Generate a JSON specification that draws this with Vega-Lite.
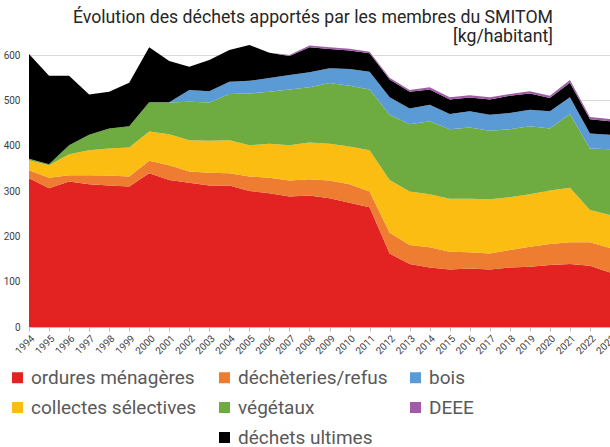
{
  "$schema": "https://vega.github.io/schema/vega-lite/v6.json",
  "width": 581,
  "height": 272,
  "autosize": {"type": "none"},
  "padding": {"left": 29, "top": 55, "right": 0, "bottom": 120},
  "background": "white",
  "title": {
    "text": "Évolution des déchets apportés par les membres du SMITOM",
    "subtitle": "[kg/habitant]",
    "anchor": "end",
    "frame": "group",
    "dx": -57,
    "offset": -1,
    "font": "Roboto",
    "fontSize": 17.7,
    "fontWeight": "normal",
    "color": "#262626",
    "subtitleFont": "Roboto",
    "subtitleFontSize": 17.7,
    "subtitleColor": "#262626",
    "subtitlePadding": 2
  },
  "data": {
    "values": [
      {"year": "1994", "ordures ménagères": 328, "déchèteries/refus": 18, "collectes sélectives": 22, "végétaux": 3, "bois": 0, "déchets ultimes": 231, "DEEE": 0},
      {"year": "1995", "ordures ménagères": 306, "déchèteries/refus": 23, "collectes sélectives": 28, "végétaux": 2, "bois": 0, "déchets ultimes": 195, "DEEE": 0},
      {"year": "1996", "ordures ménagères": 321, "déchèteries/refus": 14, "collectes sélectives": 46, "végétaux": 20, "bois": 0, "déchets ultimes": 153, "DEEE": 0},
      {"year": "1997", "ordures ménagères": 315, "déchèteries/refus": 20, "collectes sélectives": 55, "végétaux": 34, "bois": 0, "déchets ultimes": 89, "DEEE": 0},
      {"year": "1998", "ordures ménagères": 312, "déchèteries/refus": 22, "collectes sélectives": 60, "végétaux": 44, "bois": 0, "déchets ultimes": 81, "DEEE": 0},
      {"year": "1999", "ordures ménagères": 310, "déchèteries/refus": 22, "collectes sélectives": 64, "végétaux": 47, "bois": 0, "déchets ultimes": 96, "DEEE": 0},
      {"year": "2000", "ordures ménagères": 339, "déchèteries/refus": 28, "collectes sélectives": 64, "végétaux": 65, "bois": 0, "déchets ultimes": 121, "DEEE": 0},
      {"year": "2001", "ordures ménagères": 324, "déchèteries/refus": 33, "collectes sélectives": 68, "végétaux": 70, "bois": 1, "déchets ultimes": 91, "DEEE": 0},
      {"year": "2002", "ordures ménagères": 318, "déchèteries/refus": 25, "collectes sélectives": 69, "végétaux": 85, "bois": 26, "déchets ultimes": 51, "DEEE": 0},
      {"year": "2003", "ordures ménagères": 312, "déchèteries/refus": 28, "collectes sélectives": 71, "végétaux": 84, "bois": 25, "déchets ultimes": 69, "DEEE": 0},
      {"year": "2004", "ordures ménagères": 312, "déchèteries/refus": 27, "collectes sélectives": 73, "végétaux": 102, "bois": 27, "déchets ultimes": 70, "DEEE": 0},
      {"year": "2005", "ordures ménagères": 300, "déchèteries/refus": 32, "collectes sélectives": 69, "végétaux": 114, "bois": 28, "déchets ultimes": 79, "DEEE": 0},
      {"year": "2006", "ordures ménagères": 295, "déchèteries/refus": 34, "collectes sélectives": 75, "végétaux": 115, "bois": 30, "déchets ultimes": 56, "DEEE": 0},
      {"year": "2007", "ordures ménagères": 288, "déchèteries/refus": 35, "collectes sélectives": 78, "végétaux": 123, "bois": 32, "déchets ultimes": 42, "DEEE": 2},
      {"year": "2008", "ordures ménagères": 290, "déchèteries/refus": 36, "collectes sélectives": 81, "végétaux": 122, "bois": 33, "déchets ultimes": 55, "DEEE": 4},
      {"year": "2009", "ordures ménagères": 284, "déchèteries/refus": 39, "collectes sélectives": 81, "végétaux": 134, "bois": 33, "déchets ultimes": 42, "DEEE": 4},
      {"year": "2010", "ordures ménagères": 274, "déchèteries/refus": 41, "collectes sélectives": 83, "végétaux": 134, "bois": 37, "déchets ultimes": 41, "DEEE": 4},
      {"year": "2011", "ordures ménagères": 264, "déchèteries/refus": 35, "collectes sélectives": 91, "végétaux": 134, "bois": 39, "déchets ultimes": 41, "DEEE": 3},
      {"year": "2012", "ordures ménagères": 162, "déchèteries/refus": 46, "collectes sélectives": 116, "végétaux": 144, "bois": 39, "déchets ultimes": 39, "DEEE": 4},
      {"year": "2013", "ordures ménagères": 139, "déchèteries/refus": 42, "collectes sélectives": 118, "végétaux": 148, "bois": 35, "déchets ultimes": 37, "DEEE": 4},
      {"year": "2014", "ordures ménagères": 131, "déchèteries/refus": 45, "collectes sélectives": 117, "végétaux": 161, "bois": 36, "déchets ultimes": 34, "DEEE": 5},
      {"year": "2015", "ordures ménagères": 127, "déchèteries/refus": 39, "collectes sélectives": 117, "végétaux": 153, "bois": 34, "déchets ultimes": 32, "DEEE": 5},
      {"year": "2016", "ordures ménagères": 129, "déchèteries/refus": 36, "collectes sélectives": 118, "végétaux": 157, "bois": 36, "déchets ultimes": 30, "DEEE": 5},
      {"year": "2017", "ordures ménagères": 127, "déchèteries/refus": 35, "collectes sélectives": 120, "végétaux": 151, "bois": 35, "déchets ultimes": 34, "DEEE": 5},
      {"year": "2018", "ordures ménagères": 131, "déchèteries/refus": 39, "collectes sélectives": 116, "végétaux": 150, "bois": 36, "déchets ultimes": 38, "DEEE": 4},
      {"year": "2019", "ordures ménagères": 133, "déchèteries/refus": 44, "collectes sélectives": 116, "végétaux": 150, "bois": 36, "déchets ultimes": 36, "DEEE": 5},
      {"year": "2020", "ordures ménagères": 137, "déchèteries/refus": 46, "collectes sélectives": 118, "végétaux": 137, "bois": 38, "déchets ultimes": 29, "DEEE": 5},
      {"year": "2021", "ordures ménagères": 139, "déchèteries/refus": 48, "collectes sélectives": 120, "végétaux": 163, "bois": 37, "déchets ultimes": 32, "DEEE": 6},
      {"year": "2022", "ordures ménagères": 135, "déchèteries/refus": 52, "collectes sélectives": 71, "végétaux": 136, "bois": 33, "déchets ultimes": 31, "DEEE": 5},
      {"year": "2023", "ordures ménagères": 120, "déchèteries/refus": 54, "collectes sélectives": 73, "végétaux": 145, "bois": 32, "déchets ultimes": 30, "DEEE": 5}
    ]
  },
  "transform": [
    {"fold": ["ordures ménagères", "déchèteries/refus", "collectes sélectives", "végétaux", "bois", "déchets ultimes", "DEEE"], "as": ["type", "value"]},
    {"calculate": "indexof(['ordures ménagères','déchèteries/refus','collectes sélectives','végétaux','bois','déchets ultimes','DEEE'], datum.type)", "as": "stackorder"}
  ],
  "mark": {"type": "area", "interpolate": "linear"},
  "encoding": {
    "x": {
      "field": "year",
      "type": "ordinal",
      "scale": {"type": "point", "padding": 0},
      "axis": {
        "title": null,
        "labelAngle": -45,
        "labelFont": "Roboto",
        "labelFontSize": 10,
        "labelColor": "#404040",
        "labelPadding": 2,
        "tickSize": 4,
        "tickColor": "#bfbfbf",
        "domainColor": "#bfbfbf",
        "grid": false
      }
    },
    "y": {
      "field": "value",
      "type": "quantitative",
      "stack": "zero",
      "scale": {"domain": [0, 600], "nice": false},
      "axis": {
        "title": null,
        "values": [0, 100, 200, 300, 400, 500, 600],
        "labelFont": "Roboto",
        "labelFontSize": 10,
        "labelColor": "#404040",
        "labelPadding": 9,
        "ticks": false,
        "domain": false,
        "grid": true,
        "gridColor": "#d9d9d9"
      }
    },
    "order": {"field": "stackorder", "type": "quantitative"},
    "color": {
      "field": "type",
      "type": "nominal",
      "scale": {
        "domain": ["ordures ménagères", "déchèteries/refus", "bois", "collectes sélectives", "végétaux", "DEEE", " ", "déchets ultimes"],
        "range": ["#e32322", "#ee7d31", "#5b9bd5", "#fbbd12", "#6eac42", "#a05ca6", "rgba(0,0,0,0)", "#000000"]
      },
      "legend": {
        "title": null,
        "orient": "none",
        "legendX": -21,
        "legendY": 313,
        "direction": "horizontal",
        "columns": 3,
        "columnPadding": 18,
        "rowPadding": 10,
        "symbolType": "square",
        "symbolSize": 121,
        "symbolStrokeWidth": 0,
        "labelFont": "Roboto",
        "labelFontSize": 19,
        "labelColor": "#595959",
        "labelOffset": 4,
        "labelLimit": 300
      }
    }
  },
  "config": {"view": {"stroke": null}}
}
